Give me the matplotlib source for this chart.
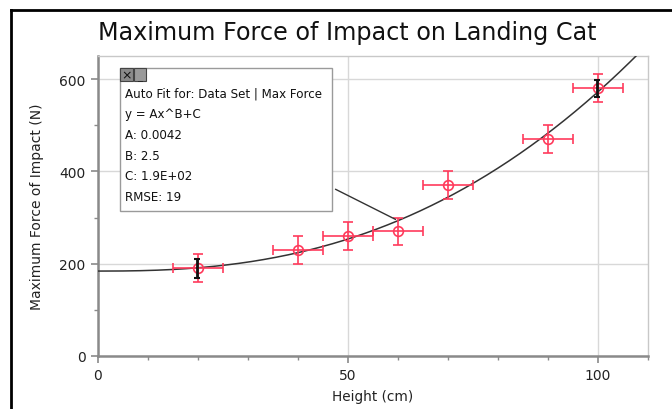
import matplotlib
matplotlib.use("Agg")
import matplotlib.pyplot as plt
import numpy as np
from matplotlib.lines import Line2D
from matplotlib.patches import Rectangle
from matplotlib.ticker import MultipleLocator

# Data
heights = [20, 40, 50, 60, 70, 90, 100]
forces = [190, 230, 260, 270, 370, 470, 580]
x_err = [5, 5, 5, 5, 5, 5, 5]
y_err = [30, 30, 30, 30, 30, 30, 30]
sel_heights = [20, 100]
sel_forces = [190, 580]
sel_err = [20, 18]

# Fit parameters (y = A x^B + C)
fit_A = 0.0042
fit_B = 2.483
fit_C = 184

title = "Maximum Force of Impact on Landing Cat"
xlabel = "Height (cm)"
ylabel = "Maximum Force of Impact (N)"
fit_lines = ["Auto Fit for: Data Set | Max Force", "y = Ax^B+C", "A: 0.0042",
             "B: 2.5", "C: 1.9E+02", "RMSE: 19"]

W, H = 672, 410
fig = plt.figure(figsize=(W / 100, H / 100), dpi=100)
plt.rcParams['font.family'] = ['DejaVu Sans']

ax = fig.add_axes([98 / W, 1 - 357 / H, (648 - 98) / W, (357 - 57) / H])
ax.set_xlim(0, 110)
ax.set_ylim(0, 650)

for s in ["top", "right"]:
    ax.spines[s].set_color("#c8c8c8")
    ax.spines[s].set_linewidth(1.0)
for s in ["left", "bottom"]:
    ax.spines[s].set_color("#8a8a8a")
    ax.spines[s].set_linewidth(1.8)

ax.xaxis.set_major_locator(MultipleLocator(50))
ax.xaxis.set_minor_locator(MultipleLocator(10))
ax.yaxis.set_major_locator(MultipleLocator(200))
ax.yaxis.set_minor_locator(MultipleLocator(100))
ax.tick_params(which="major", length=5, width=1.2, color="#8a8a8a", labelsize=10, labelcolor="#222222", pad=4)
ax.tick_params(which="minor", length=3, width=1.0, color="#8a8a8a")
ax.grid(which="major", color="#d8d8d8", linewidth=1.0)
ax.set_axisbelow(True)

# fit curve
xs = np.linspace(0, 110, 400)
ax.plot(xs, fit_A * xs ** fit_B + fit_C, color="#333333", lw=1.1, zorder=3)

red = "#ff3b5c"
ax.errorbar(heights, forces, xerr=x_err, yerr=y_err, fmt="o", mfc="none", mec=red, ms=7,
            mew=1.2, ecolor=red, elinewidth=1.2, capsize=3.5, capthick=1.2, zorder=4)
ax.errorbar(np.array(sel_heights) - 0.3, sel_forces, yerr=sel_err, fmt="none", ecolor="#111111",
            elinewidth=2.0, capsize=2, capthick=1.5, zorder=5)

ax.set_xlabel(xlabel, fontsize=9.8, color="#222222", labelpad=5)
ax.set_ylabel(ylabel, fontsize=10, color="#222222", labelpad=11)
fig.text(347 / W, 1 - 33 / H, title, ha="center", va="center", fontsize=17.2, color="#111111")

# leader line from box to curve
x_lead = 60
ax.annotate("", xy=(x_lead, fit_A * x_lead ** fit_B + fit_C), xycoords="data",
            xytext=(333 / W, 1 - 189 / H), textcoords="figure fraction",
            arrowprops=dict(arrowstyle="-", color="#333333", lw=1.0), zorder=6)

# fit info box
bx0, bx1, by0, by1 = 120, 332, 69, 212
fig.add_artist(Rectangle((bx0 / W, 1 - by1 / H), (bx1 - bx0) / W, (by1 - by0) / H,
                         transform=fig.transFigure, facecolor="white", edgecolor="#9a9a9a", lw=1.0, zorder=10))
fig.add_artist(Rectangle((bx0 / W, 1 - 82 / H), 13 / W, 13 / H, transform=fig.transFigure,
                         facecolor="#8a8a8a", edgecolor="#444444", lw=0.8, zorder=11))
fig.add_artist(Rectangle((134 / W, 1 - 82 / H), 12 / W, 13 / H, transform=fig.transFigure,
                         facecolor="#9a9a9a", edgecolor="#444444", lw=0.8, zorder=11))
fig.text(126.5 / W, 1 - 75.5 / H, "×", ha="center", va="center", fontsize=9, color="#111111", zorder=12)
fig.text(140 / W, 1 - 77 / H, "_", ha="center", va="center", fontsize=7, color="#222222", zorder=12)
for i, t in enumerate(fit_lines):
    fig.text(125 / W, 1 - (94 + i * 20.7) / H, t, ha="left", va="center", fontsize=8.6,
             color="#111111", zorder=12)

# outer frame
fig.add_artist(Line2D([11 / W, 1.0], [1 - 11 / H, 1 - 11 / H], transform=fig.transFigure, color="black", lw=2))
fig.add_artist(Line2D([11 / W, 11 / W], [0, 1 - 11 / H], transform=fig.transFigure, color="black", lw=2))

fig.savefig("out.png", dpi=100)
